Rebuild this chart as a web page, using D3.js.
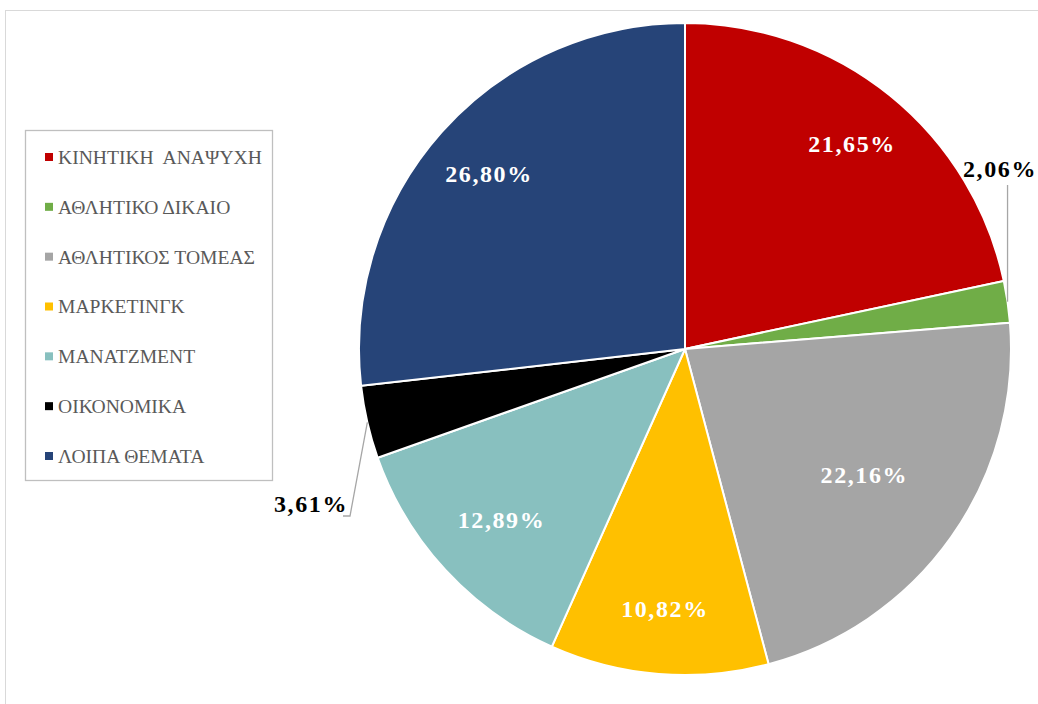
<!DOCTYPE html>
<html>
<head>
  <title>Pie</title>
  <style type="text/css">
    body { margin: 0; background: #fff; }
    svg { display: block; }
  </style>
</head>
<body>

<svg id='vis' width='1038' height='704'></svg>

<script src="https://cdnjs.cloudflare.com/ajax/libs/d3/7.8.5/d3.min.js"></script>
<script type="text/javascript">

  // data
  var categories = ['ΚΙΝΗΤΙΚΗ  ΑΝΑΨΥΧΗ', 'ΑΘΛΗΤΙΚΟ ΔΙΚΑΙΟ', 'ΑΘΛΗΤΙΚΟΣ ΤΟΜΕΑΣ',
                    'ΜΑΡΚΕΤΙΝΓΚ', 'ΜΑΝΑΤΖΜΕΝΤ', 'ΟΙΚΟΝΟΜΙΚΑ', 'ΛΟΙΠΑ ΘΕΜΑΤΑ']
  var values = [21.65, 2.06, 22.16, 10.82, 12.89, 3.61, 26.80]
  var labels = ['21,65%', '2,06%', '22,16%', '10,82%', '12,89%', '3,61%', '26,80%']

  var colors = ['#c00000', '#70ad47', '#a5a5a5', '#ffc000', '#88c0bf', '#000000', '#264478']

  /* layout */
  var cx = 685, cy = 349, R = 326
  var FONT = 'Liberation Serif'
  // radial position of each label as a fraction of R (outside ones are handled apart)
  var labelR = [0.81, null, 0.67, 0.8, 0.77, null, 0.81]

  var svg = d3.select('#vis')

  // chart area border
  svg.append('rect')
    .attr('x', 5.5).attr('y', 10.5)
    .attr('width', 1100).attr('height', 800)
    .attr('fill', 'none')
    .attr('stroke', '#d9d9d9')
    .attr('stroke-width', 1)

  var pie = d3.pie().sort(null).value(function(d) { return d })
  var arcs = pie(values)
  var arc = d3.arc().innerRadius(0).outerRadius(R)

  var g = svg.append('g').attr('transform', 'translate(' + cx + ',' + cy + ')')

  g.selectAll('path.slice')
    .data(arcs)
    .enter().append('path')
    .attr('class', 'slice')
    .attr('d', arc)
    .attr('fill', function(d, i) { return colors[i] })
    .attr('stroke', '#fff')
    .attr('stroke-width', 2)
    .attr('stroke-linejoin', 'round')

  function edgePoint(d, r) {
    var a = (d.startAngle + d.endAngle) / 2
    return [r * Math.sin(a), -r * Math.cos(a)]
  }

  function labelStyle(sel) {
    sel.attr('font-family', FONT)
      .attr('font-size', 24)
      .attr('font-weight', 'bold')
      .attr('letter-spacing', 1.6)
  }

  // inner labels
  g.selectAll('text.inner')
    .data(arcs.filter(function(d, i) { return labelR[i] !== null }))
    .enter().append('text')
    .attr('class', 'inner')
    .call(labelStyle)
    .attr('x', function(d) { return edgePoint(d, R * labelR[d.index])[0] + 1 })
    .attr('y', function(d) { return edgePoint(d, R * labelR[d.index])[1] })
    .attr('dy', '0.35em')
    .attr('text-anchor', 'middle')
    .attr('fill', '#fff')
    .text(function(d) { return labels[d.index] })

  // outside labels with leader lines
  var p1 = edgePoint(arcs[1], R)
  g.append('path')
    .attr('d', d3.line()([[p1[0], p1[1]], [p1[0], 185 - cy]]))
    .attr('fill', 'none').attr('stroke', '#a6a6a6').attr('stroke-width', 1.3)
  g.append('text')
    .call(labelStyle)
    .attr('x', 1037 - cx).attr('y', 177 - cy)
    .attr('text-anchor', 'end')
    .attr('fill', '#000')
    .text(labels[1])

  var p5 = edgePoint(arcs[5], R)
  g.append('path')
    .attr('d', d3.line()([[p5[0], p5[1]], [350 - cx, 516 - cy], [343 - cx, 516 - cy]]))
    .attr('fill', 'none').attr('stroke', '#a6a6a6').attr('stroke-width', 1.3)
  g.append('text')
    .call(labelStyle)
    .attr('x', 348 - cx).attr('y', 512 - cy)
    .attr('text-anchor', 'end')
    .attr('fill', '#000')
    .text(labels[5])

  // legend
  var legend = svg.append('g')
  legend.append('rect')
    .attr('x', 25.5).attr('y', 130.5)
    .attr('width', 247).attr('height', 350)
    .attr('fill', '#fff')
    .attr('stroke', '#bfbfbf')
    .attr('stroke-width', 1.3)

  var legendY = d3.scalePoint().domain(categories).range([157, 456])

  var items = legend.selectAll('g.item')
    .data(categories)
    .enter().append('g')
    .attr('class', 'item')
    .attr('transform', function(d) { return 'translate(0,' + legendY(d) + ')' })

  items.append('rect')
    .attr('x', 45).attr('y', -4)
    .attr('width', 8).attr('height', 8)
    .attr('fill', function(d, i) { return colors[i] })

  items.append('text')
    .attr('x', 58).attr('y', 0)
    .attr('dy', '0.35em')
    .attr('font-family', FONT)
    .attr('font-size', 19.6)
    .attr('fill', '#595959')
    .style('white-space', 'pre')
    .text(function(d) { return d })

</script>
</body>
</html>
